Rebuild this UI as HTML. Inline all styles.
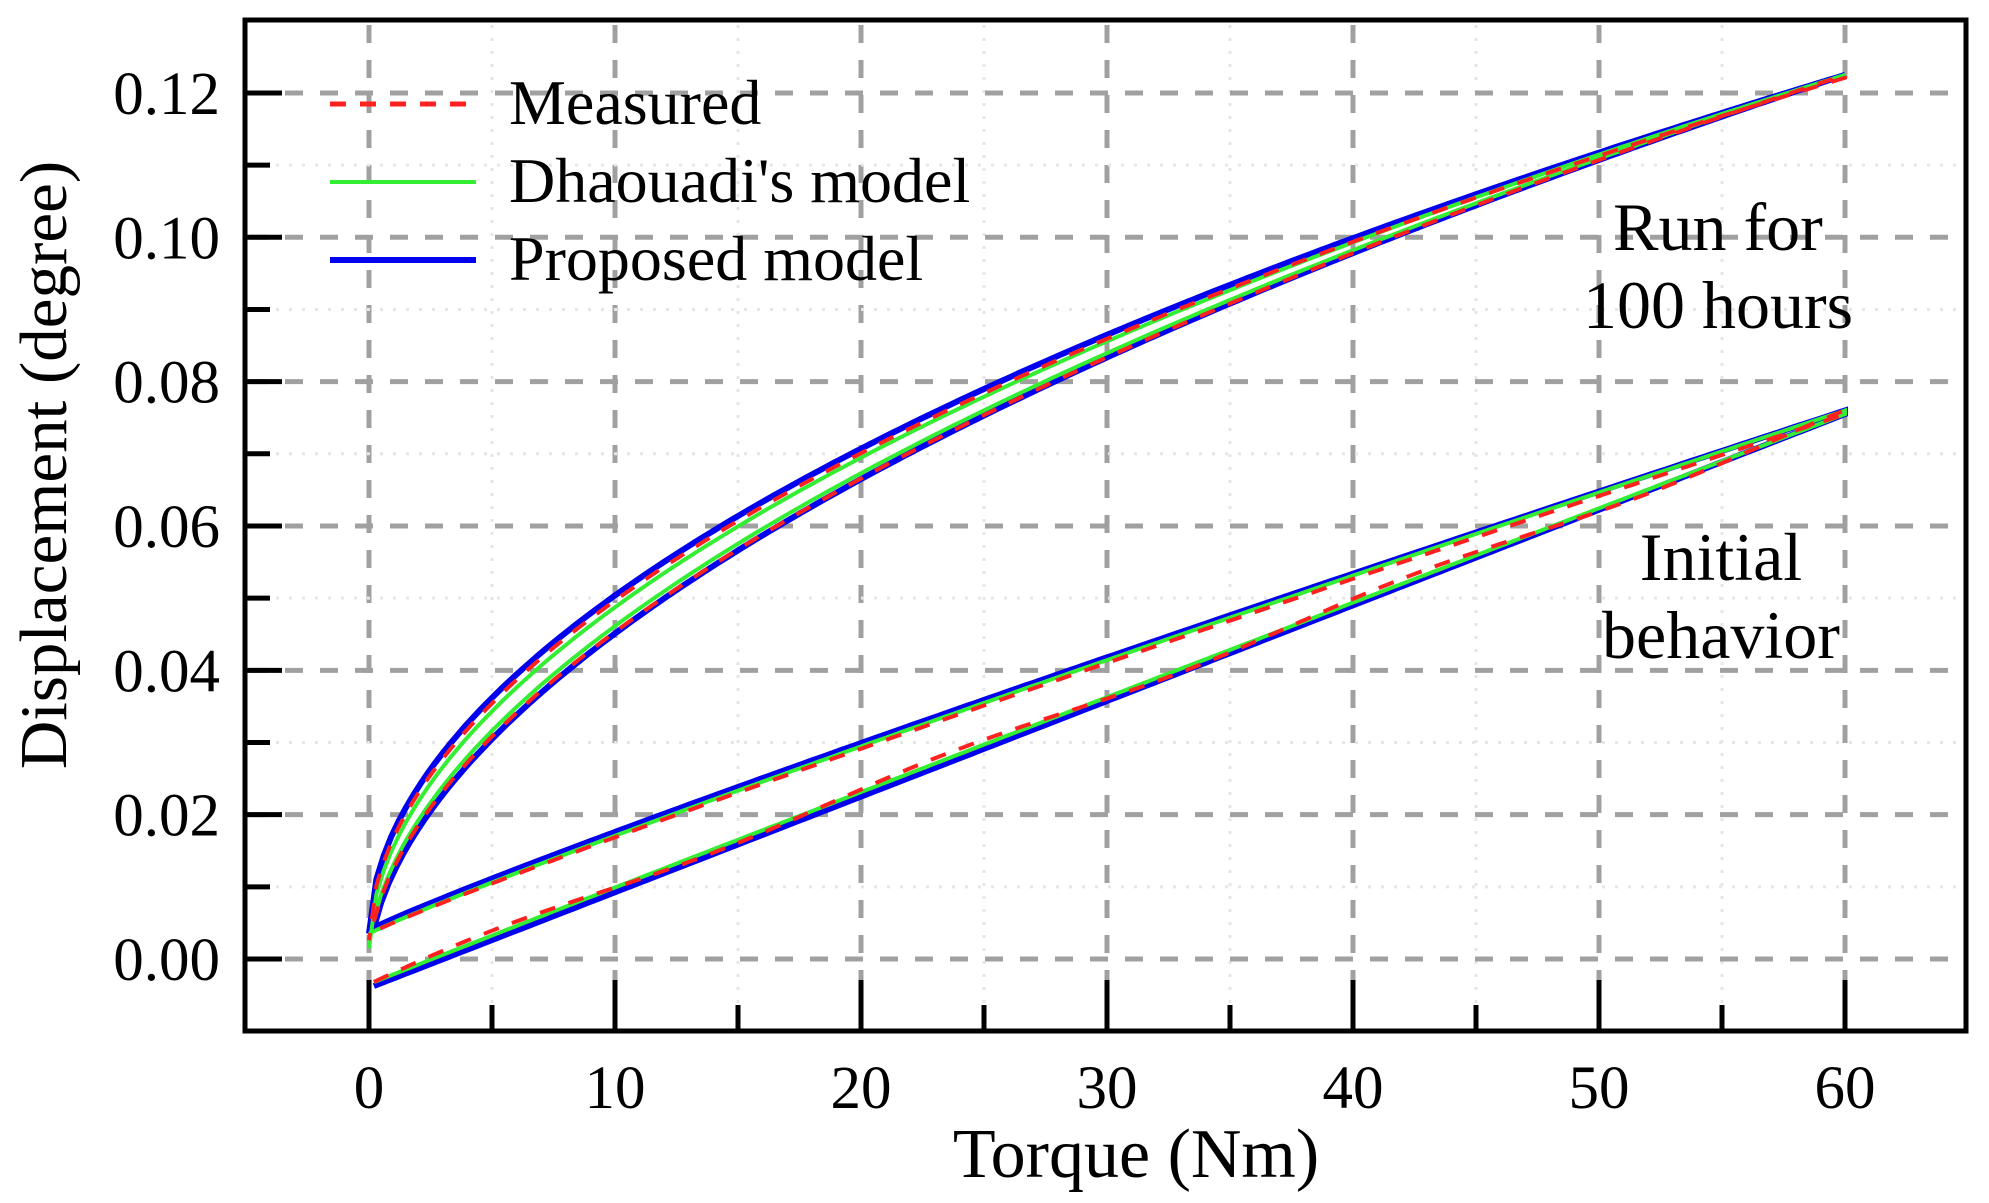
<!DOCTYPE html>
<html><head><meta charset="utf-8"><style>
html,body{margin:0;padding:0;background:#fff;}
svg{display:block;}
text{font-family:"Liberation Serif",serif;fill:#000;}
</style></head><body>
<svg id="s" width="1989" height="1203" viewBox="0 0 1989 1203" xmlns="http://www.w3.org/2000/svg">
<rect width="1989" height="1203" fill="#fff"/>
<g id="grid"></g>
<g id="curves"></g>
<g id="ticks"></g>
<rect x="245" y="20" width="1721" height="1011" fill="none" stroke="#000" stroke-width="5"/>
<g font-size="61" text-anchor="end" id="ylab"></g>
<g font-size="61" text-anchor="middle" id="xlab"></g>
<text x="1136" y="1177" font-size="70" text-anchor="middle">Torque (Nm)</text>
<text transform="translate(66,465) rotate(-90)" font-size="67" text-anchor="middle">Displacement (degree)</text>
<line x1="330" y1="104" x2="476" y2="104" stroke="#ff2020" stroke-width="5" stroke-dasharray="16,14"/>
<line x1="330" y1="182" x2="476" y2="182" stroke="#33ee33" stroke-width="4"/>
<line x1="330" y1="260" x2="476" y2="260" stroke="#0000ee" stroke-width="6"/>
<text x="509" y="124" font-size="64">Measured</text>
<text x="509" y="202" font-size="64">Dhaouadi's model</text>
<text x="509" y="280" font-size="64">Proposed model</text>
<text x="1718" y="250" font-size="68" text-anchor="middle">Run for</text>
<text x="1718" y="328" font-size="68" text-anchor="middle">100 hours</text>
<text x="1721" y="580" font-size="68" text-anchor="middle">Initial</text>
<text x="1721" y="658" font-size="68" text-anchor="middle">behavior</text>
</svg>
<script>
var NS="http://www.w3.org/2000/svg";
function X(t){return 369+24.6*t;}
function Y(d){return 959-7217*d;}
function el(p,n,a){var e=document.createElementNS(NS,n);for(var k in a)e.setAttribute(k,a[k]);document.getElementById(p).appendChild(e);return e;}
for(var t=0;t<=60;t+=5){var maj=(t%10==0);
 el("grid","line",{x1:X(t),y1:25,x2:X(t),y2:1028,stroke:maj?"#a0a0a0":"#e6e6e6","stroke-width":maj?5:3,"stroke-dasharray":maj?"18,17":"3,10"});
 el("ticks","line",{x1:X(t),y1:1031,x2:X(t),y2:maj?980:1005,stroke:"#000","stroke-width":5});
 if(maj){var tx=el("xlab","text",{x:X(t),y:1108});tx.textContent=String(t);}
}
for(var i=0;i<=13;i++){var d=-0.01+i*0.01;var y=Y(d);if(y<25||y>1028)continue;var maj=(i%2==1);
 el("grid","line",{x1:250,y1:y,x2:1962,y2:y,stroke:maj?"#a0a0a0":"#e6e6e6","stroke-width":maj?5:3,"stroke-dasharray":maj?"18,17":"3,10"});
 el("ticks","line",{x1:245,y1:y,x2:maj?282:270,y2:y,stroke:"#000","stroke-width":5});
 if(maj){var tl=el("ylab","text",{x:220,y:y+21});tl.textContent=d.toFixed(2);}
}
function path(f,t0,t1){var s="";for(var k=0;k<=200;k++){var t=t0+(t1-t0)*k/200;s+=(k?"L":"M")+X(t).toFixed(1)+","+Y(f(t)).toFixed(1);}return s;}
function loop(up,lo){return path(lo,0.2,60)+path(up,60,0).replace(/^M/,"L");}
var Hu_b=function(t){return 0.0035+(0.1225-0.0035)*Math.pow(t/60,0.52);};
var Hl_b=function(t){return -0.001+(0.1225+0.001)*Math.pow(t/60,0.55);};
var Hu_g=function(t){return 0.0015+(0.1225-0.0015)*Math.pow(t/60,0.525);};
var Hl_g=function(t){return 0.0+(0.1225)*Math.pow(t/60,0.545);};
var Hu_r=function(t){return 0.003+(0.1225-0.003)*Math.pow(t/60,0.52)-0.0004;};
var Hl_r=function(t){return 0.0+(0.1225)*Math.pow(t/60,0.555);};
var Iu_b=function(t){return 0.004+0.072*Math.pow(t/60,0.93);};
var Il_b=function(t){return -0.004+0.0795*Math.pow(t/60,1.0);};
var Iu_g=function(t){return 0.0035+0.0725*Math.pow(t/60,0.935);};
var Il_g=function(t){return -0.0035+0.079*Math.pow(t/60,0.99);};
var Iu_r=function(t){return 0.0035+0.072*Math.pow(t/60,0.94);};
var Il_r=function(t){return -0.0035+0.079*Math.pow(t/60,0.985)+0.0006*Math.sin(t/3);};
el("curves","path",{d:loop(Hu_b,Hl_b),fill:"none",stroke:"#0000ee","stroke-width":6});
el("curves","path",{d:loop(Iu_b,Il_b),fill:"none",stroke:"#0000ee","stroke-width":6});
el("curves","path",{d:loop(Hu_g,Hl_g),fill:"none",stroke:"#33ee33","stroke-width":4});
el("curves","path",{d:loop(Iu_g,Il_g),fill:"none",stroke:"#33ee33","stroke-width":4});
el("curves","path",{d:loop(Hu_r,Hl_r),fill:"none",stroke:"#ff2020","stroke-width":4,"stroke-dasharray":"16,14"});
el("curves","path",{d:loop(Iu_r,Il_r),fill:"none",stroke:"#ff2020","stroke-width":4,"stroke-dasharray":"16,14"});
</script>
</body></html>
